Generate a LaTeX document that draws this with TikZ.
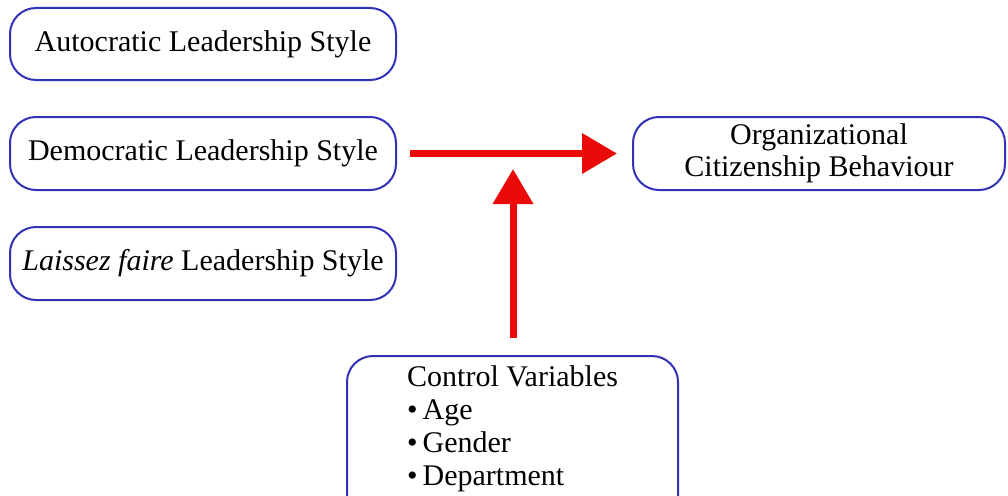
\documentclass[tikz,border=0pt]{standalone}
\usepackage{fontspec}
\setmainfont{Liberation Serif}
\usetikzlibrary{arrows.meta}
\definecolor{boxblue}{RGB}{50,50,185}
\definecolor{arrred}{RGB}{235,10,10}
\tikzset{
  stylebox/.style={draw=boxblue, line width=2pt, rounded corners=26pt, fill=white,
    inner sep=0pt, font=\fontsize{30pt}{32pt}\selectfont, align=center},
  redarrow/.style={draw=arrred, line width=7pt,
    -{Triangle[length=35pt,width=39pt]}},
}
\begin{document}
\begin{tikzpicture}[x=1pt,y=-1pt]
\useasboundingbox (0,0) rectangle (1008,495);
\clip (0,0) rectangle (1008,495);
\fill[white] (0,0) rectangle (1008,495);
\node[stylebox, minimum width=386pt, minimum height=72pt] (auto) at (203,44) {Autocratic Leadership Style};
\node[stylebox, minimum width=386pt, minimum height=73pt] (demo) at (203,153.5) {Democratic Leadership Style};
\node[stylebox, minimum width=386pt, minimum height=73pt] (laissez) at (203,263.5) {\textit{Laissez faire} Leadership Style};
\node[stylebox, minimum width=372pt, minimum height=73pt] (ocb) at (819,153.5) {Organizational\\Citizenship Behaviour};
\node[stylebox, minimum width=331pt, minimum height=170pt, anchor=north] (ctrl) at (512.5,355) {};
\node[inner sep=0pt, anchor=north west, align=left, font=\fontsize{30pt}{33pt}\selectfont] (ctrltext) at (407,365)
  {Control Variables\\\textbullet\,Age\\\textbullet\,Gender\\\textbullet\,Department};
\coordinate (jt) at (513,169);
\draw[redarrow, shorten <=13pt, shorten >=15pt] (demo.east) -- (ocb.west);
\draw[redarrow, shorten <=17pt] (ctrl.north -| jt) -- (jt);
\end{tikzpicture}
\end{document}
